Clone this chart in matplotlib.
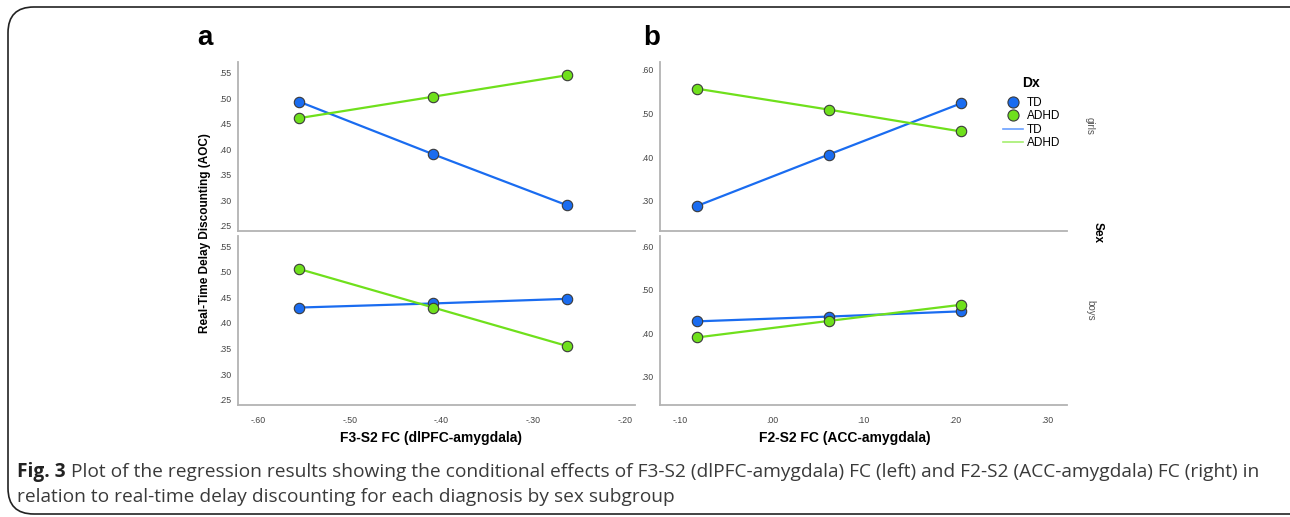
import numpy as np
import matplotlib.pyplot as plt
from matplotlib.patches import FancyBboxPatch
from matplotlib.lines import Line2D

# ---------------------------------------------------------------------
# data
# ---------------------------------------------------------------------
fc_a = [-0.555, -0.409, -0.263]          # F3-S2 FC (dlPFC-amygdala)
fc_b = [-0.082, 0.062, 0.206]            # F2-S2 FC (ACC-amygdala)

a_girls_td = [0.493, 0.390, 0.290]
a_girls_adhd = [0.461, 0.503, 0.545]
a_boys_td = [0.430, 0.438, 0.447]
a_boys_adhd = [0.505, 0.430, 0.355]

b_girls_td = [0.288, 0.406, 0.523]
b_girls_adhd = [0.557, 0.509, 0.459]
b_boys_td = [0.427, 0.438, 0.450]
b_boys_adhd = [0.390, 0.428, 0.465]

ticks_a_x = [-0.60, -0.50, -0.40, -0.30, -0.20]
ticks_a_y = [0.25, 0.30, 0.35, 0.40, 0.45, 0.50, 0.55]
ticks_b_x = [-0.10, 0.00, 0.10, 0.20, 0.30]
ticks_b_y = [0.30, 0.40, 0.50, 0.60]

caption_1 = ("Plot of the regression results showing the conditional effects of F3-S2 "
             "(dlPFC-amygdala) FC (left) and F2-S2 (ACC-amygdala) FC (right) in")
caption_2 = "relation to real-time delay discounting for each diagnosis by sex subgroup"

TD_C = "#1a6cf0"
ADHD_C = "#6fe01c"
SPINE = "#b3b3b3"

W, H = 1290, 517
fig = plt.figure(figsize=(W / 100, H / 100), dpi=100)
plt.rcParams['font.family'] = ['Liberation Sans', 'DejaVu Sans']


def px_axes(x0, y0, x1, y1):
    return fig.add_axes([x0 / W, 1 - y1 / H, (x1 - x0) / W, (y1 - y0) / H])


def fmt(v):
    s = "%.2f" % v
    return s.replace("0.", ".", 1)


def panel(ax, x, td, adhd, xlim, ylim, xt, yt, show_x):
    ax.plot(x, td, color=TD_C, lw=1.6, marker="o", ms=7.5,
            mfc=TD_C, mec="#3a3a3a", mew=0.8, zorder=3)
    ax.plot(x, adhd, color=ADHD_C, lw=1.6, marker="o", ms=7.5,
            mfc=ADHD_C, mec="#3a3a3a", mew=0.8, zorder=3)
    ax.set_xlim(*xlim)
    ax.set_ylim(*ylim)
    ax.set_yticks(yt)
    ax.set_yticklabels([fmt(v) for v in yt], fontsize=6.3, color="#444444")
    ax.set_xticks(xt)
    if show_x:
        ax.set_xticklabels([fmt(v) for v in xt], fontsize=6.3, color="#444444")
    else:
        ax.set_xticklabels([])
    ax.tick_params(axis="y", length=0, pad=5)
    ax.tick_params(axis="x", length=0, pad=8)
    for s in ["top", "right"]:
        ax.spines[s].set_visible(False)
    for s in ["left", "bottom"]:
        ax.spines[s].set_color(SPINE)
        ax.spines[s].set_linewidth(1.3)
    ax.patch.set_alpha(0)


xlim_a = (-0.622, -0.189)
xlim_b = (-0.122, 0.322)

ax1 = px_axes(238, 62, 635, 231)
panel(ax1, fc_a, a_girls_td, a_girls_adhd, xlim_a, (0.2396, 0.571),
      ticks_a_x, ticks_a_y, False)
ax2 = px_axes(238, 236, 635, 405)
panel(ax2, fc_a, a_boys_td, a_boys_adhd, xlim_a, (0.240, 0.5695),
      ticks_a_x, ticks_a_y, True)
ax3 = px_axes(660, 62, 1067, 231)
panel(ax3, fc_b, b_girls_td, b_girls_adhd, xlim_b, (0.231, 0.618),
      ticks_b_x, ticks_b_y, False)
ax4 = px_axes(660, 236, 1067, 405)
panel(ax4, fc_b, b_boys_td, b_boys_adhd, xlim_b, (0.235, 0.623),
      ticks_b_x, ticks_b_y, True)


def ftext(x, y, s, **kw):
    return fig.text(x / W, 1 - y / H, s, **kw)


ftext(205, 38, "a", fontsize=20, fontweight="bold", ha="center", va="center")
ftext(652, 38, "b", fontsize=20, fontweight="bold", ha="center", va="center")
ftext(205, 233, "Real-Time Delay Discounting (AOC)", fontsize=8.5,
      fontweight="bold", rotation=90, ha="center", va="center")
ftext(431, 438, "F3-S2 FC (dlPFC-amygdala)", fontsize=10, fontweight="bold",
      ha="center", va="center")
ftext(845, 438, "F2-S2 FC (ACC-amygdala)", fontsize=10, fontweight="bold",
      ha="center", va="center")
ftext(1090, 126, "girls", fontsize=7, color="#555555", rotation=-90,
      ha="center", va="center")
ftext(1090, 310, "boys", fontsize=7, color="#555555", rotation=-90,
      ha="center", va="center")
ftext(1098, 232, "Sex", fontsize=8.5, fontweight="bold", rotation=-90,
      ha="center", va="center")

# legend
handles = [
    Line2D([], [], ls="none", marker="o", ms=8, mfc=TD_C, mec="#3a3a3a", mew=0.8),
    Line2D([], [], ls="none", marker="o", ms=8, mfc=ADHD_C, mec="#3a3a3a", mew=0.8),
    Line2D([], [], color="#6aa0ff", lw=1.2),
    Line2D([], [], color="#a6ef70", lw=1.2),
]
leg = fig.legend(handles, ["TD", "ADHD", "TD", "ADHD"], title="Dx",
                 loc="upper left", bbox_to_anchor=(1003 / W, 1 - 76 / H),
                 frameon=False, fontsize=8.5, handlelength=1.7,
                 handletextpad=0.3, labelspacing=0.12, borderpad=0,
                 borderaxespad=0)
leg.get_title().set_fontweight("bold")
leg.get_title().set_fontsize(10)
leg._legend_box.sep = 5

# caption: bold "Fig. 3" then the rest, placed after measuring
cap_font = ["Open Sans", "DejaVu Sans"]
cap_size = 13.8
t_fig = ftext(17, 472, "Fig. 3", fontsize=cap_size, fontweight="bold", va="center",
              family=cap_font, color="#222222")
fig.canvas.draw()
bb = t_fig.get_window_extent()
ftext(bb.x1 + 5, 472, caption_1, fontsize=cap_size, va="center",
      family=cap_font, color="#3a3a3a")
ftext(17, 497, caption_2, fontsize=cap_size, va="center",
      family=cap_font, color="#3a3a3a")

# rounded border
box = FancyBboxPatch((8 / W, 3 / H), 1320 / W, 507 / H,
                     boxstyle="round,pad=0,rounding_size=0.02",
                     transform=fig.transFigure, fill=False,
                     ec="#222222", lw=1.2, mutation_aspect=W / H)
fig.patches.append(box)

fig.savefig("out.png", dpi=100)
